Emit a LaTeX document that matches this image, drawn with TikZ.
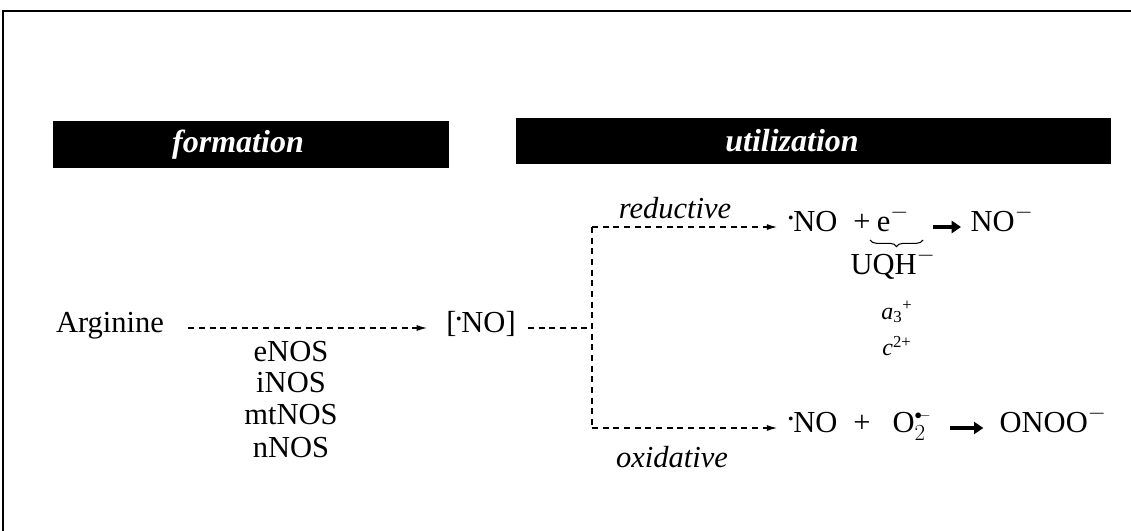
\documentclass[tikz,border=0pt]{standalone}
\usepackage{fontspec}
\setmainfont{Liberation Serif}
\usepackage{graphicx}
\usetikzlibrary{arrows.meta, positioning, calc, decorations.pathreplacing}
\newcommand{\rad}{\raisebox{0.75ex}{\scalebox{0.3}{$\bullet$}}}

\begin{document}
\begin{tikzpicture}[x=0.75pt, y=-0.75pt,
    txt/.style={inner sep=0pt, font=\fontsize{22.9}{26}\selectfont, text height=0.8em, text depth=0.2em},
    lbltxt/.style={inner sep=0pt, font=\fontsize{22.9}{26}\selectfont\itshape},
    smalltxt/.style={inner sep=0pt, font=\fontsize{18}{20}\selectfont},
    headtxt/.style={inner sep=0pt, text=white, font=\fontsize{24}{26}\selectfont\bfseries\itshape},
    dashline/.style={line width=1.1pt, dash pattern=on 4.5pt off 3.5pt},
    tip/.style={-{Latex[length=8pt,width=4.5pt]}},
    heavy/.style={line width=2.6pt, -{Triangle[length=7pt,width=9pt]}}]

  \useasboundingbox (0,0) rectangle (1131,531);
  \draw[line width=1.6pt] (1131,11) -- (3,11) -- (3,531);

  \fill[black] (53,121) rectangle (449,168);
  \fill[black] (516,118) rectangle (1111,164);
  \node[headtxt] (form) at (238,145) {formation};
  \node[headtxt] (util) at (792,141) {utilization};

  \node[txt] (arg) at (110,328) {Arginine};
  \node[txt] (nobr) at (481,328) {[\rad NO]};
  \foreach \enz/\yy in {eNOS/357, iNOS/388, mtNOS/420, nNOS/453}
    \node[txt] (\enz) at (291,\yy) {\enz};
  \draw[dashline, tip, shorten <=18pt, shorten >=14pt] (arg) -- (nobr);

  \coordinate (split) at (592,328);
  \coordinate (splitR) at (592,227);
  \coordinate (splitO) at (592,428);
  \draw[dashline, shorten <=9pt] (nobr) -- (split);
  \draw[dashline] (splitR) -- (splitO);

  % reductive
  \node[lbltxt] (redlbl) at (675,208) {reductive};
  \node[txt] (noR) at (813,227) {\rad NO};
  \node[txt] (plusR) at (862,227) {+};
  \node[txt] (eR) at (893,227) {e$^-$};
  \node[txt] (nomR) at (1002,227) {NO$^-$};
  \draw[dashline, tip, shorten >=8pt] (splitR) -- (noR);
  \draw[heavy, shorten <=18pt, shorten >=7pt] (eR) -- (nomR);
  \draw[decorate, decoration={brace, mirror, amplitude=5pt}, line width=0.8pt] (870,240) -- (923,240);
  \node[txt] (uqh) at (893,270) {UQH$^-$};
  \node[smalltxt] (a3) at (897,312) {\textit{a}\textsubscript{3}\textsuperscript{+}};
  \node[smalltxt] (c2) at (897,346) {\textit{c}\textsuperscript{2+}};

  % oxidative
  \node[lbltxt] (oxlbl) at (672,457) {oxidative};
  \node[txt] (noO) at (813,428) {\rad NO};
  \node[txt] (plusO) at (862,428) {+};
  \node[txt] (supO) at (912,428) {O$_2^{\scriptscriptstyle\bullet\!-}$};
  \node[txt] (onoo) at (1053,428) {ONOO$^-$};
  \draw[dashline, tip, shorten >=8pt] (splitO) -- (noO);
  \draw[heavy, shorten <=14pt, shorten >=12pt] (supO) -- (onoo);
\end{tikzpicture}
\end{document}
